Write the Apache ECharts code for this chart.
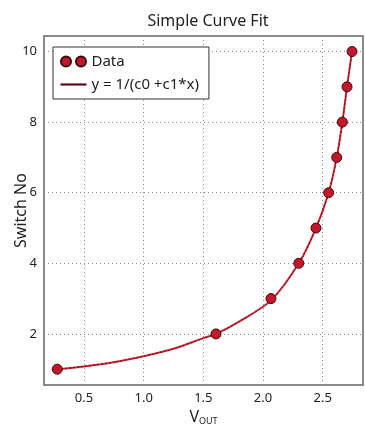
<!DOCTYPE html>
<html>
<head>
<meta charset="utf-8">
<script src="https://cdn.jsdelivr.net/npm/echarts@6/dist/echarts.min.js"></script>
<style>
 html, body { margin: 0; padding: 0; background: #fff; }
 #chart { width: 365px; height: 427px; }
</style>
</head>
<body>
<div id="chart"></div>
<script>
// measured points
const dataX = [0.276, 1.606, 2.067, 2.30, 2.444, 2.55, 2.618, 2.665, 2.704, 2.746]
const dataY = [1, 2, 3, 4, 5, 6, 7, 8, 9, 10]
// fitted curve
const fitX = [0.276, 0.5, 0.75, 1.0, 1.25, 1.5, 1.606, 1.8, 2.067, 2.30, 2.444, 2.55, 2.618, 2.665, 2.704, 2.746]
const fitY = [1, 1.08, 1.2, 1.37, 1.58, 1.88, 2.0, 2.35, 2.95, 4, 5, 6, 7, 8, 9, 10]
const xTicks = [0.5, 1.0, 1.5, 2.0, 2.5]
const yTicks = [2, 4, 6, 8, 10]

const font = 'Noto Sans'
const pair = (xs, ys) => xs.map((x, i) => [x, ys[i]])
const twoDots = 'path://M0,5a5,5 0 1,0 10,0a5,5 0 1,0 -10,0M15,5a5,5 0 1,0 10,0a5,5 0 1,0 -10,0'

const chart = echarts.init(document.getElementById('chart'))
chart.setOption({
 animation: false,
 textStyle: { fontFamily: font },
 title: {
  text: 'Simple Curve Fit',
  left: 203, top: 8, textAlign: 'center',
  textStyle: { fontFamily: font, fontSize: 16, fontWeight: 'normal', color: '#222' }
 },
 grid: {
  left: 44, right: 2, top: 36, bottom: 42, outerBoundsMode: 'none',
  show: true, borderColor: '#666', borderWidth: 1.5, backgroundColor: '#fff'
 },
 legend: {
  left: 53, top: 47, orient: 'vertical',
  backgroundColor: '#fff', borderColor: '#333', borderWidth: 1,
  padding: [7, 10, 7, 7], itemGap: 8, itemWidth: 26, itemHeight: 10,
  textStyle: { fontFamily: font, fontSize: 15, color: '#222' },
  data: [
   { name: 'Data', icon: twoDots },
   { name: 'y = 1/(c0 +c1*x)', icon: 'path://M0,0h24v2h-24z' }
  ]
 },
 xAxis: {
  type: 'value', min: 0.165, max: 2.838,
  name: '{v|V}{s|OUT}', nameLocation: 'middle', nameGap: 24, nameMoveOverlap: false,
  nameTextStyle: {
   rich: {
    v: { fontFamily: font, fontSize: 16, color: '#222' },
    s: { fontFamily: font, fontSize: 9, color: '#222', verticalAlign: 'bottom', padding: [8, 0, 0, 0] }
   }
  },
  axisLine: { show: false },
  axisTick: { show: false, customValues: xTicks },
  axisLabel: {
   customValues: xTicks, fontSize: 13, color: '#222', margin: 7,
   formatter: v => v.toFixed(1)
  },
  splitLine: { show: true, lineStyle: { color: '#888', type: [1, 3], width: 1 } }
 },
 yAxis: {
  type: 'value', min: 0.553, max: 10.44,
  name: 'Switch No', nameLocation: 'middle', nameGap: 15, nameMoveOverlap: false,
  nameTextStyle: { fontFamily: font, fontSize: 16, color: '#222' },
  axisLine: { show: false },
  axisTick: { show: false, customValues: yTicks },
  axisLabel: { customValues: yTicks, fontSize: 13, color: '#222', margin: 7 },
  splitLine: { show: true, lineStyle: { color: '#888', type: [1, 3], width: 1 } }
 },
 series: [
  {
   name: 'fit-base', type: 'line', data: pair(fitX, fitY), smooth: 0.3,
   showSymbol: false, silent: true, lineStyle: { color: '#d42a3a', width: 2 }, z: 2
  },
  {
   name: 'y = 1/(c0 +c1*x)', type: 'line', data: pair(fitX, fitY), smooth: 0.3,
   showSymbol: false, itemStyle: { color: '#5a0a14' },
   lineStyle: { color: '#5a0a14', width: 1, type: [2, 2] }, z: 3
  },
  {
   name: 'Data', type: 'scatter', data: pair(dataX, dataY), symbolSize: 10,
   itemStyle: { color: '#c4172c', borderColor: '#3a0a10', borderWidth: 1, opacity: 1 }, z: 4
  }
 ]
})
</script>
</body>
</html>
